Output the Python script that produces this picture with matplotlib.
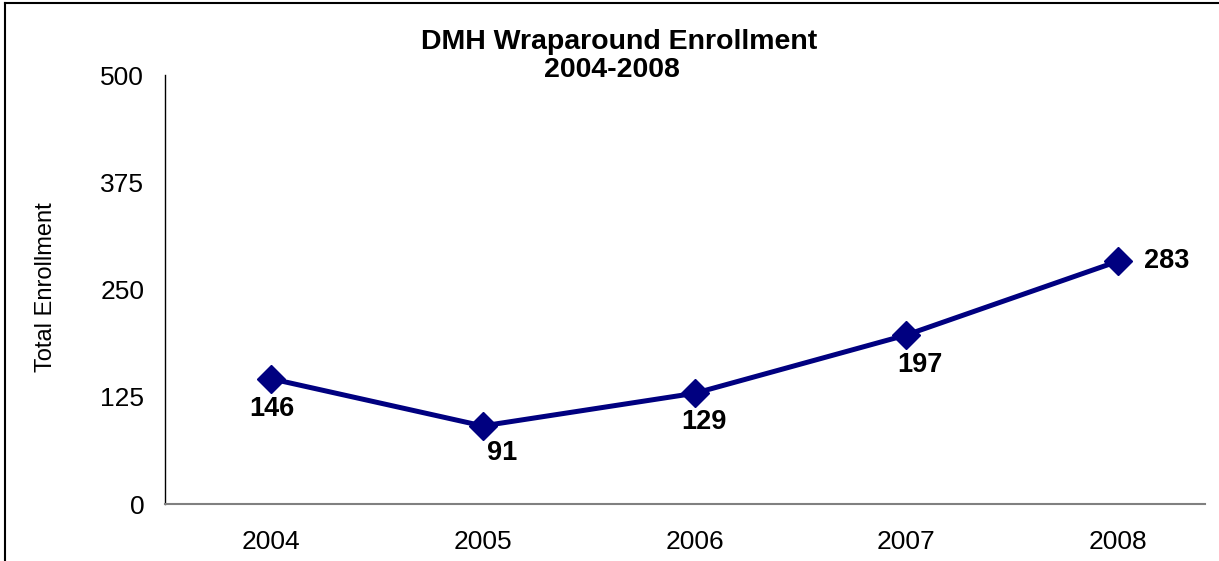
import matplotlib.pyplot as plt
from matplotlib.lines import Line2D

years = ["2004", "2005", "2006", "2007", "2008"]
enrollment = [146, 91, 129, 197, 283]
yticks = [0, 125, 250, 375, 500]
# label offsets (points) for each data label
label_offsets = [(1, -22), (14, -19.5), (7, -21), (10, -21.5), (35, 0)]

plt.rcParams['font.family'] = ['Liberation Sans', 'DejaVu Sans']

fig = plt.figure(figsize=(12.19, 5.61), dpi=100)
ax = fig.add_axes([0.1354, 0.1016, 0.8531, 0.7647])

x = list(range(len(years)))
ax.plot(x, enrollment, color='#000080', linewidth=3.6, marker='D',
        markersize=14, zorder=3)

for i, v in enumerate(enrollment):
    dx, dy = label_offsets[i]
    ax.annotate(str(v), (i, v), xytext=(dx, dy), textcoords='offset points',
                ha='center', va='center', fontsize=19.5, fontweight='bold')

ax.set_xlim(-0.5, 4.41)
ax.set_ylim(0, 500)
ax.set_xticks(x)
ax.set_xticklabels(years)
ax.set_yticks(yticks)
ax.tick_params(axis='both', length=0, labelsize=19)
ax.tick_params(axis='x', pad=19)
ax.tick_params(axis='y', pad=15)
ax.spines['top'].set_visible(False)
ax.spines['right'].set_visible(False)
ax.spines['left'].set_color('black')
ax.spines['left'].set_linewidth(1.0)
ax.spines['bottom'].set_color('#808080')
ax.spines['bottom'].set_linewidth(1.5)
ax.set_ylabel("Total Enrollment", fontsize=17)
ax.yaxis.set_label_coords(-0.104, 0.505)

fig.text(0.508, 1 - 42 / 561, "DMH Wraparound Enrollment", ha='center',
         va='center', fontsize=20.5, fontweight='bold')
fig.text(0.502, 1 - 70 / 561, "2004-2008", ha='center', va='center',
         fontsize=20.5, fontweight='bold')

# outer frame (left and top edges visible)
fig.add_artist(Line2D([5 / 1219, 5 / 1219], [0, 1 - 3 / 561], color='black',
                      linewidth=1.5, transform=fig.transFigure))
fig.add_artist(Line2D([5 / 1219, 1], [1 - 3 / 561, 1 - 3 / 561], color='black',
                      linewidth=1.5, transform=fig.transFigure))

fig.savefig("out.png", dpi=100)
